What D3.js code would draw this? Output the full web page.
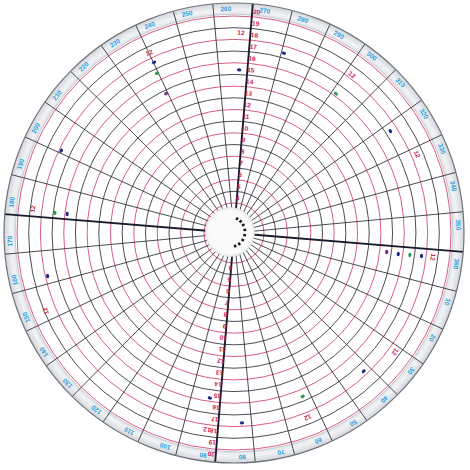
<!DOCTYPE html>
<html><head><meta charset="utf-8">
<script src="https://cdn.jsdelivr.net/npm/d3@7"></script>
<style>html,body{margin:0;padding:0;background:#fff;overflow:hidden}</style>
</head><body><svg id="c" width="470" height="470"></svg>
<script>
// ---- data ----
const ringValues = [4,5,6,7,8,9,10,11,12,13,14,15,16,17,18,19,20];
const axisLabelValues = [4,5,6,7,8,9,10,11,12,13,14,15,16,17,18,19,20];
const rimLabels = [10,20,30,40,50,60,70,80,90,100,110,120,130,140,150,160,170,180,
                   190,200,210,220,230,240,250,260,270,280,290,300,310,320,330,340,350,360];
const mainAxes = [90,180,270,360];
const labelledAxes = [90,270];
const markerAngles = [240.1,240.2,239.6,239.4,267.1,280.8,267.3,302,301.5,322.2,332,
                      2.4,2.6,2.4,2.3,2.2,31.7,42.1,62.5,63.5,93.6,82.9,93.1,
                      200.8,182.1,181.7,181.8,162.3,152.8];
const markerValues = [18.5,17.55,16.6,14.7,15.4,17.4,18.6,18.35,16.2,17.4,18.5,
                      14.6,15.6,16.6,17.6,18.6,18.6,17.65,16.6,18.45,15.7,17.7,18.45,
                      17.8,18.8,16.85,15.8,17.8,18.9];
const markerKinds = ["red","blue","green","purple","blue","blue","red","red","green","blue","red",
                     "purple","blue","green","blue","red","red","blue","green","red","blue","blue","red",
                     "blue","red","green","blue","blue","red"];
const markerText = "12";

// ---- layout ----
const cx = 234, cy = 233, R = 230, rimInner = 218;
const holeCx = 230, holeCy = 232, holeR = 23;
const svg = d3.select("#c");
const g = svg.append("g").attr("transform", `translate(${cx},${cy})`);

const r = d3.scaleLinear().domain([4,20]).range([30,217]);
const ang = d3.scaleLinear().domain([0,360]).range([4.7,364.7]); // chart degrees -> screen degrees (clockwise from +x)
const rad = d => d*Math.PI/180;
const px = (a, rr) => rr*Math.cos(rad(ang(a)));
const py = (a, rr) => rr*Math.sin(rad(ang(a)));

const colors = {red:"#cf1f4f", blue:"#1c2c8c", green:"#2a9a50", purple:"#7a2a80"};

// disk + rim band
const defs = svg.append("defs");
const grad = defs.append("radialGradient").attr("id","rim").attr("gradientUnits","userSpaceOnUse")
  .attr("cx",0).attr("cy",0).attr("r",R);
grad.append("stop").attr("offset", rimInner/R).attr("stop-color","#dfe2e7");
grad.append("stop").attr("offset", (rimInner+5)/R).attr("stop-color","#f2f3f5");
grad.append("stop").attr("offset", 1).attr("stop-color","#d2d5da");

g.append("circle").attr("r",R).attr("fill","#fff");
g.append("path")
  .attr("d", d3.arc()({innerRadius: rimInner, outerRadius: R, startAngle: 0, endAngle: 2*Math.PI}))
  .attr("fill","url(#rim)");

// concentric rings
g.selectAll("circle.ring").data(ringValues).join("circle")
  .attr("class","ring")
  .attr("r", d => r(d))
  .attr("fill","none")
  .attr("stroke", d => d % 2 === 0 ? "#d24a78" : "#383844")
  .attr("stroke-width", 0.9);

// rim inner line
g.append("circle").attr("r", rimInner+1).attr("fill","none").attr("stroke","#b9bcc4").attr("stroke-width",0.6);

// radial lines
g.selectAll("line.radial").data(rimLabels).join("line")
  .attr("class","radial")
  .attr("x1", d => px(d, 18)).attr("y1", d => py(d, 18))
  .attr("x2", d => px(d, R)).attr("y2", d => py(d, R))
  .attr("stroke", d => mainAxes.includes(d) ? "#1b1b2e" : "#2a2a36")
  .attr("stroke-width", d => mainAxes.includes(d) ? 1.9 : 0.85);

// outer edge
g.append("circle").attr("r",R).attr("fill","none").attr("stroke","#6f737b").attr("stroke-width",1.2);

// rim labels (blue)
g.selectAll("text.rim").data(rimLabels).join("text")
  .attr("class","rim")
  .attr("transform", d => `translate(${px(d+3.2,224.5)},${py(d+3.2,224.5)}) rotate(${ang(d+3.2)+90})`)
  .attr("text-anchor","middle").attr("dominant-baseline","central")
  .attr("font-family","Liberation Sans, Arial, sans-serif").attr("font-size",6.5).attr("font-weight","bold")
  .attr("fill","#2a9fdc")
  .text(d => d);

// red scale labels along the vertical main axes
labelledAxes.forEach(a => {
  g.selectAll(null).data(axisLabelValues).join("text")
    .attr("transform", d => {
      const rr = r(d) + 5.5, aa = a + 1.2;
      return `translate(${px(aa,rr)},${py(aa,rr)}) rotate(${ang(aa)+90})`;
    })
    .attr("text-anchor","middle").attr("dominant-baseline","central")
    .attr("font-family","Liberation Sans, Arial, sans-serif").attr("font-size",6.5).attr("font-weight","bold")
    .attr("fill","#d0184c")
    .text(d => d);
});

// scattered markers
const mk = markerAngles.map((a,i) => ({a, v: markerValues[i], k: markerKinds[i]}));
g.selectAll("text.mk").data(mk.filter(d => d.k === "red")).join("text")
  .attr("class","mk")
  .attr("transform", d => `translate(${px(d.a, r(d.v))},${py(d.a, r(d.v))}) rotate(${ang(d.a)+90})`)
  .attr("text-anchor","middle").attr("dominant-baseline","central")
  .attr("font-family","Liberation Sans, Arial, sans-serif").attr("font-size",6.5).attr("font-weight","bold")
  .attr("fill", colors.red)
  .text(markerText);
g.selectAll("ellipse.mk").data(mk.filter(d => d.k !== "red")).join("ellipse")
  .attr("class","mk")
  .attr("transform", d => `translate(${px(d.a, r(d.v))},${py(d.a, r(d.v))}) rotate(${ang(d.a)})`)
  .attr("rx", 1.6).attr("ry", 2.2)
  .attr("fill", d => colors[d.k]);

// centre hole
svg.append("circle").attr("cx",holeCx).attr("cy",holeCy).attr("r",holeR+1.5)
  .attr("fill","#f3f3f5").attr("stroke","#d4d4da").attr("stroke-width",0.8);
svg.append("circle").attr("cx",holeCx).attr("cy",holeCy).attr("r",holeR-1).attr("fill","#fafafb");
const holeDots = [-62,-45,-28,-8,12,32,52,70];
svg.selectAll("rect.hd").data(holeDots).join("rect")
  .attr("class","hd")
  .attr("x",-1.4).attr("y",-1.2).attr("width",2.8).attr("height",2.4)
  .attr("transform", d => `translate(${holeCx+15*Math.cos(rad(d))},${holeCy+15*Math.sin(rad(d))}) rotate(${d})`)
  .attr("fill","#15151a");
</script>
</body></html>
